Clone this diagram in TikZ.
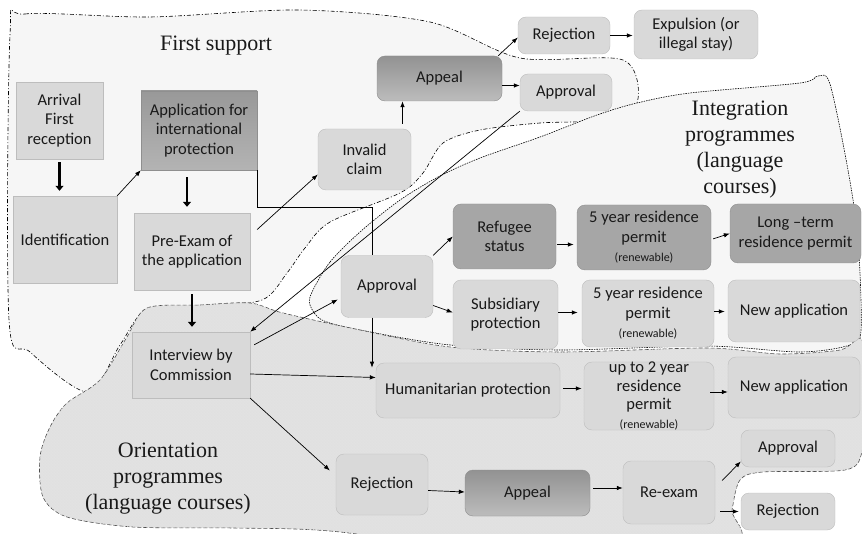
\documentclass[tikz,border=0pt]{standalone}
\usepackage{fontspec}
\setmainfont{Liberation Serif}
\newfontfamily\boxfont{Carlito}
\usepackage{xcolor}
\usepackage{tikz}
\usetikzlibrary{arrows.meta}
\usetikzlibrary{patterns}
\definecolor{boxlight}{HTML}{D9D9D9}
\definecolor{boxedge}{HTML}{BDBDBD}
\definecolor{boxdark}{HTML}{A6A6A6}
\definecolor{darkedge}{HTML}{8F8F8F}
\definecolor{zonefill}{HTML}{F6F6F6}
\definecolor{orientfill}{HTML}{E2E2E2}

\begin{document}
\begin{tikzpicture}[x=1pt,y=-1pt,
  box/.style={draw=boxedge,fill=boxlight,text=black!90,align=center,inner sep=0pt,
    font=\boxfont\fontsize{16.5}{19.5}\selectfont},
  sqbox/.style={box},
  rbox/.style={box,rounded corners=8pt},
  dbox/.style={rbox,fill=boxdark,draw=darkedge},
  gbox/.style={rbox,draw=darkedge,top color=boxdark!88!black,bottom color=boxdark!75!white},
  zone/.style={font=\fontsize{22}{26}\selectfont,align=center,text=black!90},
  arr/.style={line width=0.7pt,-{Latex[length=6pt,width=4.5pt]}},
  fatarr/.style={line width=2.6pt,-{Triangle[length=5pt,width=8pt]}}]
\useasboundingbox (0,0) rectangle (862,534);
\clip (0,0) rectangle (862,534);

\draw[fill=zonefill,dash pattern=on 4pt off 2pt on 1pt off 2pt,line width=0.6pt]
  plot[smooth cycle,tension=0.5] coordinates {(10,35) (25,14) (150,17) (300,10) (430,22)
  (520,58) (623,60) (637,103) (600,120) (540,123) (480,130) (443,143) (423,173) (400,193)
  (330,222) (305,248) (287,273) (262,300) (200,307) (147,309) (120,345) (88,392) (30,352) (9,320)};
\draw[fill=zonefill,dash pattern=on 1.5pt off 1pt,line width=0.6pt]
  plot[smooth cycle,tension=0.5] coordinates {(312,292) (330,262) (360,232) (400,200) (440,176)
  (480,158) (540,137) (597,115) (637,103) (690,93) (800,83) (818,76) (830,84) (848,170)
  (858,240) (861,330) (850,345) (800,352) (707,346) (560,350) (450,345) (360,330) (322,320) (310,305)};
\draw[fill=orientfill,dash pattern=on 4pt off 2pt,line width=0.6pt,draw=black!70]
  plot[smooth cycle,tension=0.5] coordinates {(147,308) (200,305) (250,303) (283,313) (360,330)
  (450,347) (560,352) (707,348) (780,354) (840,350) (862,340) (866,400) (862,452) (845,470)
  (763,472) (740,480) (732,510) (727,545) (500,550) (330,531) (233,528) (133,527) (67,517)
  (43,497) (40,457) (50,427) (67,403) (100,380) (127,337)};
\fill[pattern=crosshatch dots,pattern color=black!12]
  plot[smooth cycle,tension=0.5] coordinates {(147,308) (200,305) (250,303) (283,313) (360,330)
  (450,347) (560,352) (707,348) (780,354) (840,350) (862,340) (866,400) (862,452) (845,470)
  (763,472) (740,480) (732,510) (727,545) (500,550) (330,531) (233,528) (133,527) (67,517)
  (43,497) (40,457) (50,427) (67,403) (100,380) (127,337)};

\node[zone] (firstsup) at (216,46) {First support};
\node[zone] (integr) at (740,150) {Integration\\programmes\\(language\\courses)};
\node[zone] (orient) at (168,479) {Orientation\\programmes\\(language courses)};

\node[sqbox,minimum width=87pt,minimum height=77pt] (arrival) at (59.5,120.5) {Arrival\\First\\reception};
\node[sqbox,minimum width=104pt,minimum height=87pt] (ident) at (65,239.5) {Identification};
\node[sqbox,draw=darkedge,top color=boxdark!92!black,bottom color=boxdark!85!white,
  minimum width=116pt,minimum height=79pt] (app) at (199,130.5) {Application for\\international\\protection};
\node[sqbox,minimum width=116pt,minimum height=77pt] (preex) at (192,251.5) {Pre-Exam of\\the application};
\node[sqbox,minimum width=118pt,minimum height=66pt] (interv) at (191,365) {Interview by\\Commission};
\node[rbox,minimum width=93pt,minimum height=61pt] (invalid) at (364.5,159.5) {Invalid\\claim};
\node[gbox,minimum width=125pt,minimum height=45pt] (appealA) at (439.5,78.5) {Appeal};
\node[rbox,minimum width=92pt,minimum height=37pt] (rejA) at (564,35.5) {Rejection};
\node[rbox,minimum width=124pt,minimum height=49pt] (expul) at (696,34.5) {Expulsion (or\\illegal stay)};
\node[rbox,minimum width=92pt,minimum height=37pt] (apprA) at (566,92.5) {Approval};
\node[rbox,minimum width=92pt,minimum height=62pt] (apprB) at (387,286.5) {Approval};
\node[dbox,minimum width=103pt,minimum height=65pt] (refugee) at (504.5,236.5) {Refugee\\status};
\node[dbox,minimum width=134pt,minimum height=65pt] (permitA) at (644,237.5) {5 year residence\\permit\\{\fontsize{12}{14}\selectfont (renewable)}};
\node[dbox,minimum width=131pt,minimum height=59pt] (longterm) at (795.5,233.5) {Long –term\\residence permit};
\node[rbox,minimum width=105pt,minimum height=69pt] (subsid) at (505.5,314.5) {Subsidiary\\protection};
\node[rbox,minimum width=132pt,minimum height=67pt] (permitB) at (648,313.5) {5 year residence\\permit\\{\fontsize{12}{14}\selectfont (renewable)}};
\node[rbox,minimum width=132pt,minimum height=62pt] (newA) at (794,311) {New application};
\node[rbox,minimum width=184pt,minimum height=55pt] (human) at (468,390.5) {Humanitarian protection};
\node[rbox,minimum width=130pt,minimum height=68pt,font=\boxfont\fontsize{16.5}{18.5}\selectfont] (permitC) at (649,396) {up to 2 year\\residence\\permit\\{\fontsize{12}{13}\selectfont (renewable)}};
\node[rbox,minimum width=132pt,minimum height=61pt] (newB) at (794,387.5) {New application};
\node[rbox,minimum width=92pt,minimum height=61pt] (rejB) at (382,484.5) {Rejection};
\node[gbox,minimum width=125pt,minimum height=46pt] (appealB) at (527.5,493) {Appeal};
\node[rbox,minimum width=92pt,minimum height=63pt] (reexam) at (669,492.5) {Re-exam};
\node[rbox,minimum width=94pt,minimum height=37pt] (apprC) at (788,448.5) {Approval};
\node[rbox,minimum width=94pt,minimum height=37pt] (rejC) at (788,511.5) {Rejection};

\draw[fatarr,shorten <=3pt,shorten >=5pt] (arrival.south) -- (arrival.south |- ident.north);
\draw[fatarr,shorten <=7pt,shorten >=6pt] ([xshift=-12pt]app.south) -- ([xshift=-12pt]app.south |- preex.north);
\draw[fatarr,shorten <=4pt,shorten >=5pt] (preex.south) -- (preex.south |- interv.north);

\draw[arr] (ident.north east) -- (app.south west);
\draw[arr] ([xshift=7pt,yshift=22pt]preex.east) -- ([yshift=-15pt]invalid.west);
\draw[arr] ([xshift=38pt,yshift=5pt]invalid.north) -- ([xshift=38pt]invalid.north |- appealA.south);
\draw[arr] ([xshift=-4pt]appealA.north east) -- ([yshift=-2pt]rejA.west);
\draw[arr] ([yshift=-7pt]appealA.east) -- ([yshift=-7pt]appealA.east -| apprA.west);
\draw[arr,shorten >=1pt] (rejA.east) -- (rejA.east -| expul.west);
\draw[arr] (apprA.south west) -- (interv.north east);
\draw (app.south east) -- ++(0,37) -| ([xshift=-15pt]apprB.north);
\draw[arr] ([xshift=-15pt]apprB.south) -- ([xshift=-15pt,yshift=-50pt]apprB.south);
\draw[arr] ([xshift=4pt,yshift=-13pt]interv.north east) -- ([xshift=-3pt,yshift=-13pt]apprB.west);
\draw[arr] ([yshift=-9pt]interv.east) -- ([yshift=13pt]human.west);
\draw[arr] (interv.south east) -- ([xshift=-6pt,yshift=14pt]rejB.west);
\draw[arr] (apprB.north east) -- (refugee.west);
\draw[arr] ([yshift=-19pt]apprB.east) -- ([yshift=2pt]subsid.west);
\draw[arr,shorten <=1pt,shorten >=3pt] ([yshift=-8pt]refugee.east) -- ([yshift=-8pt]refugee.east -| permitA.west);
\draw[arr,shorten <=2pt] ([yshift=-2pt]permitA.east) -- (longterm.west);
\draw[arr,shorten >=4pt] ([yshift=2pt]subsid.east) -- ([yshift=2pt]subsid.east -| permitB.west);
\draw[arr,shorten >=3pt] ([yshift=2pt]permitB.east) -- ([yshift=2pt]permitB.east -| newA.west);
\draw[arr,shorten <=3pt,shorten >=2pt] ([yshift=2pt]human.east) -- ([yshift=2pt]human.east -| permitC.west);
\draw[arr] ([xshift=-4pt,yshift=4pt]permitC.east) -- ([yshift=4pt]permitC.east -| newB.west);
\draw[arr] ([yshift=-6pt]rejB.east) -- ([yshift=1pt]appealB.west);
\draw[arr,shorten <=3pt] ([yshift=5pt]appealB.east) -- ([yshift=5pt]appealB.east -| reexam.west);
\draw[arr] ([xshift=7pt,yshift=12pt]reexam.east) -- ([yshift=-13pt]apprC.west);
\draw[arr,shorten >=2pt] ([xshift=5pt,yshift=-19pt]reexam.east) -- ([yshift=-19pt]reexam.east -| rejC.west);
\end{tikzpicture}
\end{document}
